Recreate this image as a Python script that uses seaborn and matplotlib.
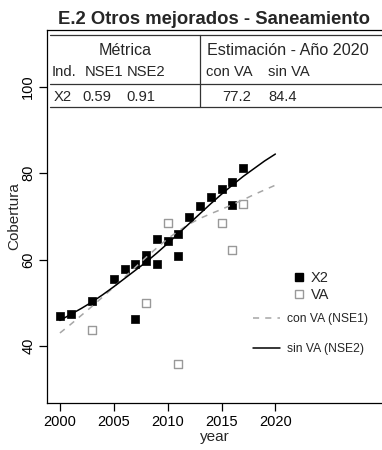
import numpy as np
import pandas as pd
import matplotlib
matplotlib.use("Agg")
import matplotlib.pyplot as plt
from matplotlib.lines import Line2D
import seaborn as sns

## DATOS
x2_year = [2000, 2001, 2003, 2005, 2006, 2007, 2007, 2008, 2008, 2009, 2009,
           2010, 2011, 2011, 2012, 2013, 2014, 2015, 2016, 2016, 2017]
x2_value = [47.0, 47.4, 50.3, 55.5, 57.9, 59.0, 46.2, 61.1, 59.6, 64.7, 59.0,
            64.2, 65.9, 60.8, 69.8, 72.4, 74.5, 76.2, 77.9, 72.5, 81.1]

va_year = [2003, 2008, 2010, 2011, 2015, 2016, 2017]
va_value = [43.6, 49.9, 68.5, 35.9, 68.5, 62.2, 72.8]

fit_year = list(range(2000, 2021))
con_va = [43.0, 45.0, 47.1, 49.2, 51.4, 53.6, 55.9, 58.2, 60.5, 62.7, 64.8,
          66.6, 68.2, 69.5, 70.6, 71.6, 72.7, 73.8, 75.0, 76.1, 77.2]
sin_va = [45.9, 47.3, 48.7, 50.2, 51.9, 53.7, 55.6, 57.5, 59.4, 61.5, 63.7,
          66.0, 68.3, 70.6, 72.9, 75.1, 77.2, 79.2, 81.0, 82.8, 84.4]

## TABLA
header_top = ["Métrica", "Estimación - Año 2020"]
header_cols = ["Ind.", "NSE1", "NSE2", "con VA", "sin VA"]
row_vals = ["X2", "0.59", "0.91", "77.2", "84.4"]

sns.set_theme(style="ticks")
plt.rcParams["font.family"] = ["Liberation Sans", "DejaVu Sans"]

pts = pd.DataFrame({"year": x2_year, "Cobertura": x2_value})
pts_va = pd.DataFrame({"year": va_year, "Cobertura": va_value})
fits = pd.DataFrame({"year": fit_year, "con": con_va, "sin": sin_va})

fig = plt.figure(figsize=(3.82, 4.5), dpi=100)
ax = fig.add_axes([47 / 382, 47 / 450, 335 / 382, 373 / 450])

sns.lineplot(data=fits, x="year", y="con", ax=ax, color="#a6a6a6", lw=1.1,
             dashes=False, linestyle=(0, (4, 4)))
sns.lineplot(data=fits, x="year", y="sin", ax=ax, color="black", lw=1.1)
sns.scatterplot(data=pts_va, x="year", y="Cobertura", ax=ax, marker="s",
                s=28, facecolor="white", edgecolor="#999999", linewidth=1.0)
sns.scatterplot(data=pts, x="year", y="Cobertura", ax=ax, marker="s",
                s=36, color="black", edgecolor="black", linewidth=0.5)

ax.set_xlim(1998.8, 2029.9)
ax.set_ylim(26.8, 113.1)
ax.set_xticks([2000, 2005, 2010, 2015, 2020])
ax.set_yticks([40, 60, 80, 100])
ax.tick_params(axis="both", direction="out", length=6, width=0.9, pad=2.5,
               labelsize=10.5, color="black", labelcolor="black")
for lab in ax.get_yticklabels():
    lab.set_rotation(90)
    lab.set_va("center")
ax.set_xlabel("year", fontsize=11, labelpad=0.5)
ax.set_ylabel("Cobertura", fontsize=11, labelpad=0)
for side in ["left", "bottom", "top"]:
    ax.spines[side].set_color("black")
    ax.spines[side].set_linewidth(0.9)
ax.spines["right"].set_visible(False)
ax.set_title("E.2 Otros mejorados - Saneamiento", fontsize=13.3,
             fontweight="bold", pad=4)

# tabla dentro del panel
tr = ax.transAxes
for yy in [0.9866, 0.8552, 0.7936]:
    ax.plot([0.008, 1.0], [yy, yy], transform=tr, color="#333333", lw=0.9,
            clip_on=False)
ax.plot([0.4567, 0.4567], [0.7936, 0.9866], transform=tr, color="#333333",
        lw=0.9)
ax.text(0.233, 0.946, header_top[0], transform=tr, ha="center", va="center",
        fontsize=11.6)
ax.text(0.720, 0.946, header_top[1], transform=tr, ha="center", va="center",
        fontsize=11.6)
for xx, t in zip([0.052, 0.170, 0.2955, 0.545, 0.722], header_cols):
    ax.text(xx, 0.887, t, transform=tr, ha="center", va="center",
            fontsize=10.6)
for xx, t in zip([0.046, 0.149, 0.279, 0.566, 0.703], row_vals):
    ax.text(xx, 0.821, t, transform=tr, ha="center", va="center",
            fontsize=10.6)

# leyendas
h_pts = [Line2D([], [], marker="s", ls="none", color="black", ms=6),
         Line2D([], [], marker="s", ls="none", mfc="white", mec="#999999",
                ms=5.5, mew=1.0)]
leg1 = ax.legend(h_pts, ["X2", "VA"], loc="center left",
                 bbox_to_anchor=(0.713, 0.312), frameon=False, borderpad=0,
                 handlelength=0.8, handletextpad=0.4, labelspacing=0.2,
                 fontsize=10.5)
ax.add_artist(leg1)
h_lin = [Line2D([], [], color="#a6a6a6", lw=1.1, ls=(0, (4, 4))),
         Line2D([], [], color="black", lw=1.1)]
ax.legend(h_lin, ["con VA (NSE1)", "sin VA (NSE2)"], loc="center left",
          bbox_to_anchor=(0.597, 0.184), frameon=False, borderpad=0,
          handlelength=2.23, handletextpad=0.58, labelspacing=1.5,
          fontsize=8.7)

fig.savefig("out.png", dpi=100)
